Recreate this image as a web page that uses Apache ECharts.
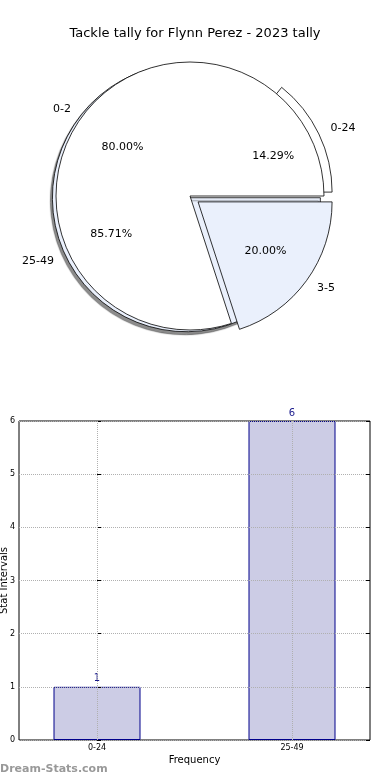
<!DOCTYPE html>
<html>
<head>
<meta charset="utf-8">
<script src="https://cdn.jsdelivr.net/npm/echarts@6/dist/echarts.min.js"></script>
<style>html,body{margin:0;padding:0;background:#fff;}#c{width:390px;height:780px;}</style>
</head>
<body>
<div id="c"></div>
<script>
// ---- data ----
var title = 'Tackle tally for Flynn Perez - 2023 tally';
var outerNames = ['0-24', '25-49'];
var outerValues = [1, 6];
var innerNames = ['0-2', '3-5'];
var innerValues = [4, 1];
var barCategories = ['0-24', '25-49'];
var barValues = [1, 6];
var yTicks = [0, 1, 2, 3, 4, 5, 6];

var FONT = 'DejaVu Sans';
var WHITE = '#ffffff', BLUE = '#eaf0fc';
var R = 134, CX = 190, CY = 196;
var CLEAR = 'rgba(0,0,0,0)';

// visible: which slices of this series are drawn (others kept for angles, drawn clear)
function pieData(names, values, colors, selected, visible, withBorder) {
  return names.map(function (n, i) {
    var vis = visible[i];
    return {
      name: n, value: values[i], selected: selected[i],
      itemStyle: vis ? { color: colors[i], borderColor: withBorder ? '#000' : CLEAR, borderWidth: withBorder ? 0.8 : 0 }
                     : { color: CLEAR, borderWidth: 0, shadowColor: CLEAR, shadowBlur: 0 },
      label: { show: vis }
    };
  });
}
function pctFmt(p) { return p.percent.toFixed(2) + '%'; }

function visualPie(names, values, colors, selected, visible, offset, shadow) {
  return {
    type: 'pie', center: [CX, CY], radius: [0, R], startAngle: 0, clockwise: false,
    selectedMode: 'multiple', selectedOffset: offset, avoidLabelOverlap: false,
    silent: true, animation: false,
    itemStyle: shadow ? { shadowBlur: 1, shadowColor: 'rgba(0,0,0,0.45)', shadowOffsetX: -2, shadowOffsetY: 3 } : {},
    label: { show: true, position: 'outside', fontFamily: FONT, fontSize: 11, color: '#000', distanceToLabelLine: 0, formatter: '{b}' },
    labelLine: { show: false, length: 13, length2: 0 },
    emphasis: { disabled: true },
    data: pieData(names, values, colors, selected, visible, true)
  };
}
function pctPie(names, values, selected, visible, offset) {
  return {
    type: 'pie', center: [CX, CY], radius: [0, R * 1.2], startAngle: 0, clockwise: false,
    selectedMode: 'multiple', selectedOffset: offset, avoidLabelOverlap: false,
    silent: true, animation: false,
    label: { show: true, position: 'inside', fontFamily: FONT, fontSize: 11, color: '#000', formatter: pctFmt },
    labelLine: { show: false },
    emphasis: { disabled: true },
    data: pieData(names, values, [CLEAR, CLEAR], selected, visible, false)
  };
}

var chart = echarts.init(document.getElementById('c'), null, { renderer: 'canvas' });
chart.setOption({
  animation: false,
  backgroundColor: '#fff',
  title: { text: title, left: 'center', top: 22, textStyle: { fontFamily: FONT, fontSize: 13, fontWeight: 'normal', color: '#000' } },
  grid: { left: 19, right: 20, top: 421, bottom: 40, containLabel: false, outerBoundsMode: 'none',
    show: true, borderColor: '#000', borderWidth: 1, backgroundColor: 'transparent' },
  xAxis: {
    type: 'value', min: -0.4, max: 1.4,
    name: 'Frequency', nameLocation: 'middle', nameGap: 15, nameMoveOverlap: false,
    nameTextStyle: { fontFamily: FONT, fontSize: 10, color: '#000' },
    axisLine: { show: false },
    axisTick: { show: true, inside: true, length: 4, customValues: [0, 1], lineStyle: { color: '#000' } },
    axisLabel: { show: true, customValues: [0, 1], fontFamily: FONT, fontSize: 8, color: '#000', margin: 4,
      formatter: function (v) { return barCategories[Math.round(v)]; } },
    splitLine: { show: false }
  },
  yAxis: [{
    type: 'value', min: 0, max: 6, interval: 1, z: 3,
    name: 'Stat Intervals', nameLocation: 'middle', nameGap: 10, nameRotate: 90, nameMoveOverlap: false,
    nameTextStyle: { fontFamily: FONT, fontSize: 10, color: '#000' },
    axisLine: { show: false },
    axisTick: { show: true, inside: true, length: 4, lineStyle: { color: '#000' } },
    axisLabel: { fontFamily: FONT, fontSize: 8, color: '#000', margin: 4,
      formatter: function (v) { return yTicks.indexOf(v) >= 0 ? String(v) : ''; } },
    splitLine: { show: true, lineStyle: { color: '#b0b0b0', type: 'dotted', width: 1 } }
  }, {
    type: 'value', min: 0, max: 6, interval: 1, position: 'right', z: 3,
    axisLine: { show: false },
    axisTick: { show: true, inside: true, length: 4, lineStyle: { color: '#000' } },
    axisLabel: { show: false }, splitLine: { show: false }
  }],
  graphic: [{
    type: 'text', left: 0, top: 764,
    style: { text: 'Dream-Stats.com', fontFamily: FONT, fontSize: 11, fontWeight: 'bold', fill: '#999' }
  }],
  series: [
    visualPie(outerNames, outerValues, [WHITE, BLUE], [false, true], [false, true], 4, true),
    visualPie(outerNames, outerValues, [WHITE, BLUE], [true, false], [true, false], 9, false),
    pctPie(outerNames, outerValues, [false, true], [false, true], 4),
    pctPie(outerNames, outerValues, [true, false], [true, false], 9),
    visualPie(innerNames, innerValues, [WHITE, BLUE], [false, true], [true, true], 10, false),
    pctPie(innerNames, innerValues, [false, true], [true, true], 10),
    {
      type: 'bar', xAxisIndex: 0, yAxisIndex: 0, barWidth: 87, z: 2,
      data: barValues.map(function (v, i) { return [i, v]; }),
      itemStyle: { color: '#ccccE5', borderColor: '#00008b', borderWidth: 1 },
      label: { show: true, position: 'top', distance: 3, fontFamily: FONT, fontSize: 10, color: '#1a1a8c' },
      markLine: {
        silent: true, symbol: 'none', label: { show: false }, animation: false,
        lineStyle: { color: '#b0b0b0', type: 'dotted', width: 1 },
        data: barCategories.map(function (c, i) { return { xAxis: i }; })
      }
    }
  ]
});
</script>
</body>
</html>
